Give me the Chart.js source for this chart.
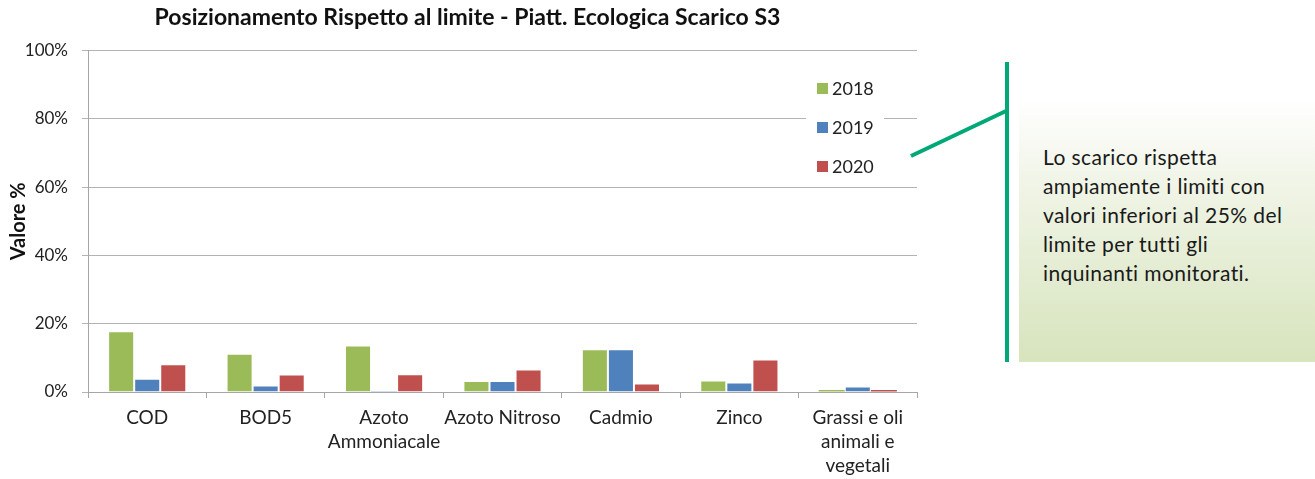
<!DOCTYPE html>
<html>
<head>
<meta charset="utf-8">
<script src="https://cdn.jsdelivr.net/npm/chart.js@4/dist/chart.umd.min.js"></script>
<style>
  html, body { margin: 0; padding: 0; background: #fff; }
  #wrap { position: relative; width: 1315px; height: 479px; }
  #note {
    position: absolute; left: 1019px; top: 100px; width: 296px; height: 262px;
    background: linear-gradient(to bottom, #ffffff 0%, #f1f5e8 30%, #d7e4bd 100%);
  }
  #note p {
    margin: 0; position: absolute; left: 24px; top: 42px; width: 272px; white-space: nowrap;
    font-family: Lato, "Noto Sans", sans-serif; font-size: 21px; letter-spacing: 0.4px;
    line-height: 29px; color: #1a1a1a;
  }
</style>
</head>
<body>
<div id="wrap">
  <canvas id="chart" width="1315" height="479"></canvas>
  <div id="note"><p>Lo scarico rispetta<br>ampiamente i limiti con<br>valori inferiori al 25% del<br>limite per tutti gli<br>inquinanti monitorati.</p></div>
</div>
<script>
// categorie e valori (% rispetto al limite)
const categories = [
    'COD',
    'BOD5',
    ['Azoto', 'Ammoniacale'],
    'Azoto Nitroso',
    'Cadmio',
    'Zinco',
    ['Grassi e oli', 'animali e', 'vegetali']
];
const years = ['2018', '2019', '2020'];
const val2018 = [17.8, 11.2, 13.6, 3.2, 12.5, 3.4, 0.6];
const val2019 = [3.9, 1.9, 0.2, 3.2, 12.5, 2.8, 1.6];
const val2020 = [8.1, 5.1, 5.2, 6.6, 2.5, 9.5, 0.6];
const yTicks = [0, 20, 40, 60, 80, 100];
const colors = ['#9BBB59', '#4F81BD', '#C0504D'];

const font = 'Lato, "Noto Sans", sans-serif';

// legenda dentro l'area del grafico + callout
const extras = {
    id: 'extras',
    afterDraw(chart) {
        const ctx = chart.ctx;
        ctx.save();
        ctx.fillStyle = '#fff';
        ctx.fillRect(806, 70, 78, 112);
        ctx.font = '18px ' + font;
        ctx.textBaseline = 'middle';
        chart.data.datasets.forEach((ds, i) => {
            const y = 88 + i * 39;
            ctx.fillStyle = ds.backgroundColor;
            ctx.fillRect(817, y - 5, 11, 11);
            ctx.fillStyle = '#222';
            ctx.fillText(ds.label, 832, y + 1);
        });
        ctx.strokeStyle = '#00A878';
        ctx.lineWidth = 4;
        ctx.beginPath();
        ctx.moveTo(1007, 62);
        ctx.lineTo(1007, 362);
        ctx.moveTo(911, 156);
        ctx.lineTo(1006, 111);
        ctx.stroke();
        ctx.restore();
    }
};

const datasets = [val2018, val2019, val2020].map((d, i) => ({
    label: years[i],
    data: d,
    backgroundColor: colors[i],
    borderColor: 'rgba(255,255,255,0.4)',
    borderWidth: c => (c.raw < 1 ? 0 : 1),
    categoryPercentage: 0.66,
    barPercentage: 1
}));

new Chart(document.getElementById('chart'), {
    type: 'bar',
    data: { labels: categories, datasets: datasets },
    options: {
        responsive: false,
        animation: false,
        layout: { padding: { left: 18, right: 398, top: 0, bottom: 0 } },
        plugins: {
            legend: { display: false },
            tooltip: { enabled: false },
            title: {
                display: true,
                text: 'Posizionamento Rispetto al limite - Piatt. Ecologica Scarico S3',
                color: '#111',
                font: { family: font, size: 23, weight: 'bold' },
                padding: { top: 4, bottom: 19 }
            }
        },
        scales: {
            x: {
                afterFit: ax => { ax.height = 87; },
                grid: { drawOnChartArea: false, color: '#a6a6a6', tickLength: 6 },
                border: { color: '#a6a6a6' },
                ticks: {
                    color: '#222', maxRotation: 0, autoSkip: false, padding: 8,
                    font: { family: font, size: 19, lineHeight: 1.26 }
                }
            },
            y: {
                min: 0, max: 100,
                afterBuildTicks: ax => { ax.ticks = yTicks.map(v => ({ value: v })); },
                afterFit: ax => { ax.width = 70; },
                grid: { color: '#b3b3b3', tickLength: 6 },
                border: { color: '#a6a6a6' },
                ticks: {
                    color: '#222', padding: 14,
                    font: { family: font, size: 17 },
                    callback: v => v + '%'
                },
                title: {
                    display: true, text: 'Valore %', color: '#111',
                    font: { family: font, size: 20, weight: 'bold' },
                    padding: { top: -11, bottom: 0 }
                }
            }
        }
    },
    plugins: [extras]
});
</script>
</body>
</html>
